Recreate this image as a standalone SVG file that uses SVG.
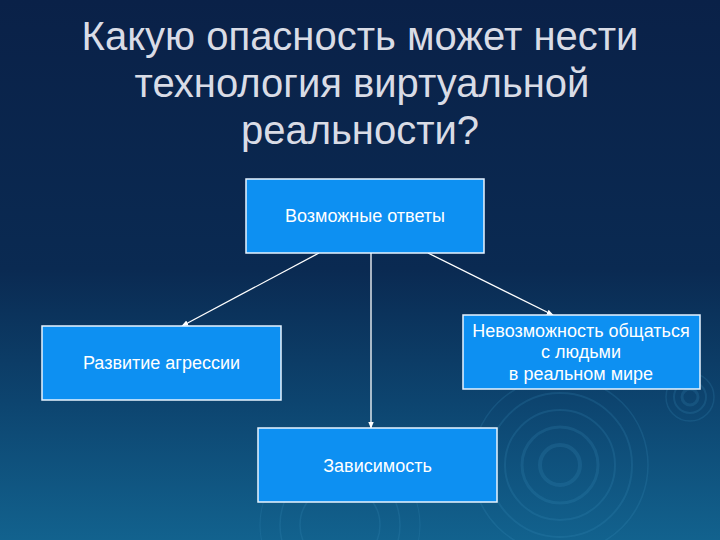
<svg xmlns="http://www.w3.org/2000/svg" width="720" height="540" viewBox="0 0 720 540">
<defs>
<linearGradient id="bg" x1="0" y1="0" x2="0" y2="1">
<stop offset="0" stop-color="#0a2148"/>
<stop offset="0.5" stop-color="#0a2a52"/>
<stop offset="0.75" stop-color="#0d4570"/>
<stop offset="1" stop-color="#12628e"/>
</linearGradient>
<marker id="ah" viewBox="0 0 10 10" refX="9" refY="5" markerWidth="7" markerHeight="7" orient="auto" markerUnits="userSpaceOnUse">
<path d="M0,1 L10,5 L0,9 z" fill="#ffffff"/>
</marker>
</defs>
<style>
.title{font-family:"Liberation Sans",Arial,sans-serif;font-size:40px;fill:#d9dce6;text-anchor:middle}
.box{fill:#0d90f2;stroke:#e8f4ff;stroke-width:1.5}
.lbl{font-family:"Liberation Sans",Arial,sans-serif;font-size:18px;fill:#ffffff;text-anchor:middle}
.con{stroke:#ffffff;stroke-width:1.3;fill:none}
.rip{fill:none;stroke:#3a8fc0;stroke-opacity:0.2}
</style>
<rect width="720" height="540" fill="url(#bg)"/>
<g id="ripples">
<circle class="rip" cx="560" cy="465" r="20" stroke-width="4"/>
<circle class="rip" cx="560" cy="465" r="38" stroke-width="3"/>
<circle class="rip" cx="560" cy="465" r="55" stroke-width="2"/>
<circle class="rip" cx="560" cy="465" r="72" stroke-width="2"/>
<circle class="rip" cx="560" cy="465" r="88" stroke-width="1.5"/>
<circle class="rip" cx="690" cy="397" r="8" stroke-width="3"/>
<circle class="rip" cx="690" cy="397" r="16" stroke-width="2"/>
<circle class="rip" cx="690" cy="397" r="24" stroke-width="1.5"/>
<circle class="rip" cx="340" cy="525" r="40" stroke-width="1.5"/>
<circle class="rip" cx="340" cy="525" r="60" stroke-width="1.5"/>
<circle class="rip" cx="340" cy="525" r="80" stroke-width="1"/>
</g>
<g id="title">
<text class="title" x="360" y="50">Какую опасность может нести</text>
<text class="title" x="362" y="97">технология виртуальной</text>
<text class="title" x="360" y="144">реальности?</text>
</g>
<g id="connectors">
<line class="con" x1="319" y1="253" x2="182" y2="326" marker-end="url(#ah)"/>
<line class="con" x1="428" y1="253" x2="553" y2="315" marker-end="url(#ah)"/>
<line class="con" x1="371" y1="253" x2="371" y2="428" marker-end="url(#ah)"/>
</g>
<g id="node-answers">
<rect class="box" x="246" y="179" width="238" height="74"/>
<text class="lbl" x="365" y="222">Возможные ответы</text>
</g>
<g id="node-aggression">
<rect class="box" x="42" y="326" width="239" height="74"/>
<text class="lbl" x="161.5" y="369">Развитие агрессии</text>
</g>
<g id="node-communication">
<rect class="box" x="463" y="315" width="237" height="74"/>
<text class="lbl" x="581" y="337">Невозможность общаться</text>
<text class="lbl" x="581" y="358">с людьми</text>
<text class="lbl" x="581" y="380">в реальном мире</text>
</g>
<g id="node-dependence">
<rect class="box" x="258" y="428" width="239" height="74"/>
<text class="lbl" x="377.5" y="472">Зависимость</text>
</g>
</svg>
